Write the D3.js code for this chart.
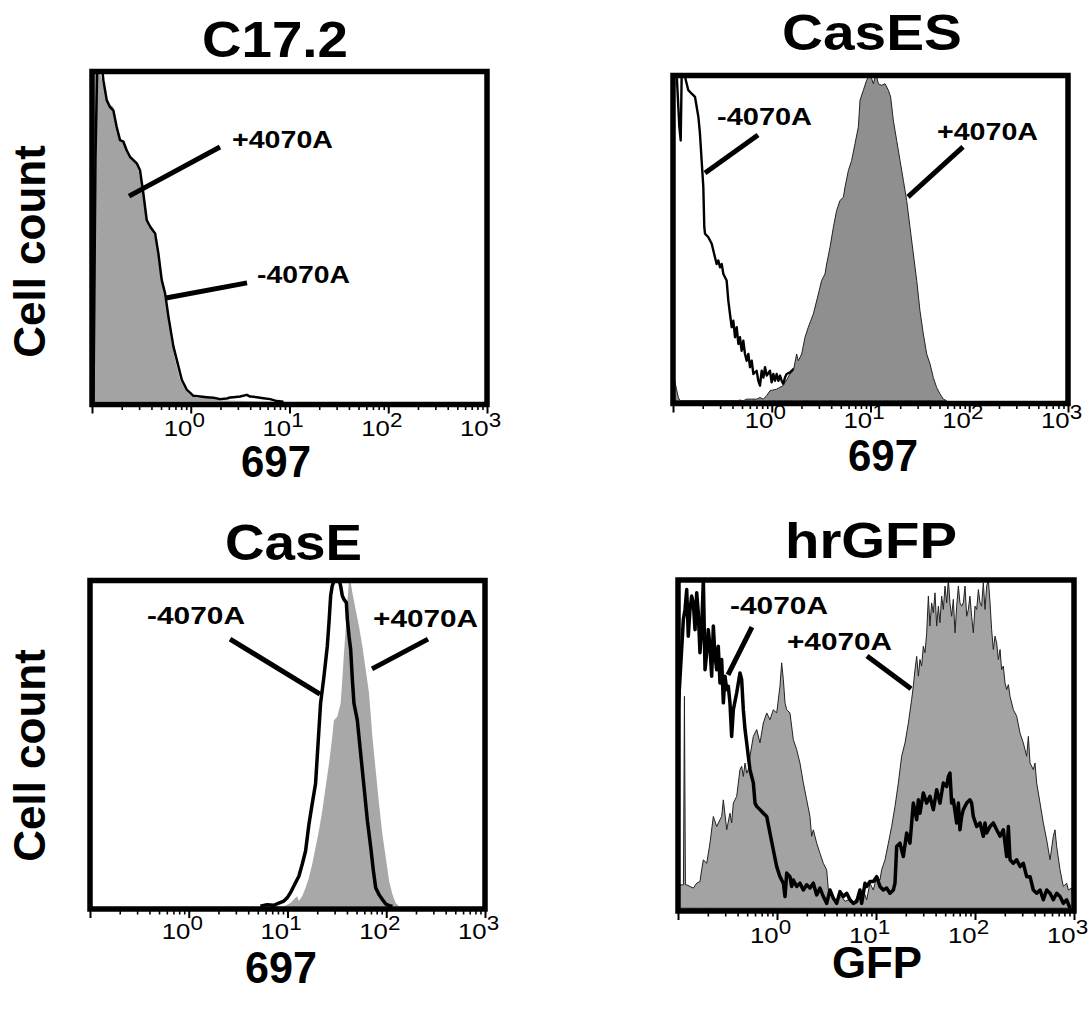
<!DOCTYPE html>
<html>
<head>
<meta charset="utf-8">
<script src="https://cdnjs.cloudflare.com/ajax/libs/d3/7.8.5/d3.min.js"></script>
<style>
    body{margin:0;background:#fff;}
    svg{display:block;font-family:"Liberation Sans",Arial,Helvetica,sans-serif;}
</style>
</head>
<body>
<svg width="1089" height="1011"></svg>
<script>
// Panel / axis text
var panelTitles=["C17.2","CasES","CasE","hrGFP"];
var xTitles=["697","697","697","GFP"];
var yTitle="Cell count";
var decades=[-1,0,1,2,3];          // log10 of fluorescence
var decadeLabels=["","0","1","2","3"];
var seriesNames=["+4070A","-4070A"];

// Histograms: [log10 fluorescence, % of max count]
var c172Plus=[[-1,0],[-0.975,104],[-0.919,100.2],[-0.868,95.1],[-0.834,91.1],[-0.784,90.0],[-0.75,83.9],[-0.716,80.4],[-0.666,78.9],[-0.615,74.8],[-0.564,73.8],[-0.53,70.7],[-0.497,65.7],[-0.463,59.6],[-0.429,53.5],[-0.395,52.4],[-0.361,50.4],[-0.328,43.3],[-0.294,37.2],[-0.26,31.1],[-0.226,25.0],[-0.193,17.9],[-0.159,12.8],[-0.108,6.7],[-0.057,3.7],[-0.007,2.1],[0.061,1.1],[0.162,1.4],[0.23,0.8],[0.331,0.4],[0.568,0.2],[0.905,0]];
var c172Minus=[[-0.985,0],[-0.965,74],[-0.946,104],[-0.902,103],[-0.885,98.2],[-0.851,92.1],[-0.818,90.0],[-0.784,89.0],[-0.75,83.9],[-0.716,79.9],[-0.682,79.4],[-0.649,76.8],[-0.615,74.8],[-0.581,73.8],[-0.547,72.8],[-0.514,70.7],[-0.48,63.6],[-0.446,55.5],[-0.412,53.5],[-0.361,51.4],[-0.328,45.3],[-0.294,37.2],[-0.26,33.1],[-0.226,26.0],[-0.176,16.9],[-0.125,10.8],[-0.091,6.7],[-0.041,3.7],[0.027,1.8],[0.095,1.6],[0.162,1.4],[0.23,1.2],[0.297,0.8],[0.365,1.0],[0.399,1.3],[0.432,1.4],[0.5,1.6],[0.568,2.1],[0.601,1.6],[0.669,1.4],[0.736,1.1],[0.804,0.8],[0.872,0.2],[0.939,0]];

var casesPlus=[[-1,0],[-0.99,7.2],[-0.946,1.0],[-0.929,0],[-0.355,0],[-0.322,0.2],[-0.288,0],[-0.254,0.5],[-0.203,0.5],[-0.153,0.5],[-0.119,1.0],[-0.085,0.5],[-0.051,1.6],[-0.018,3.1],[0.05,3.6],[0.117,4.7],[0.185,8.3],[0.219,9.3],[0.252,14.5],[0.269,12.4],[0.303,14.5],[0.337,19.7],[0.37,22.8],[0.421,26.9],[0.472,33.1],[0.505,37.3],[0.539,39.3],[0.556,42.4],[0.59,47.6],[0.624,53.8],[0.657,59.0],[0.691,62.1],[0.725,63.1],[0.742,66.3],[0.776,71.4],[0.809,74.5],[0.843,79.7],[0.877,84.9],[0.894,93.2],[0.928,96.3],[0.961,99.4],[0.995,101.4],[1.029,98.3],[1.056,101.4],[1.079,98.3],[1.113,97.8],[1.147,98.3],[1.181,96.3],[1.204,94.2],[1.231,87.0],[1.265,80.7],[1.299,74.5],[1.333,68.3],[1.366,62.1],[1.4,53.8],[1.434,45.5],[1.468,37.3],[1.501,27.9],[1.535,20.7],[1.569,14.5],[1.603,11.4],[1.636,7.2],[1.67,4.1],[1.704,2.1],[1.738,0.5],[1.771,0]];
var casesMinus=[[-1,104],[-0.963,101.4],[-0.936,85],[-0.922,80.7],[-0.912,101.4],[-0.878,100.4],[-0.845,96.3],[-0.811,95.2],[-0.777,94.2],[-0.743,88.0],[-0.727,82.8],[-0.71,74.5],[-0.693,66.3],[-0.683,53.8],[-0.676,51.8],[-0.642,50.7],[-0.608,48.7],[-0.575,44.5],[-0.558,42.4],[-0.541,43.5],[-0.524,41.4],[-0.507,42.4],[-0.49,39.3],[-0.457,37.3],[-0.44,31.1],[-0.423,26.9],[-0.406,22.8],[-0.389,24.8],[-0.372,19.7],[-0.355,22.8],[-0.338,17.6],[-0.322,19.7],[-0.305,15.5],[-0.288,18.6],[-0.271,14.5],[-0.254,12.4],[-0.237,14.5],[-0.22,10.4],[-0.203,12.4],[-0.186,8.3],[-0.153,9.3],[-0.136,6.2],[-0.119,4.7],[-0.102,9.3],[-0.085,7.2],[-0.068,10.4],[-0.051,7.8],[-0.018,9.3],[-0.001,5.7],[0.016,8.3],[0.033,6.2],[0.05,8.3],[0.067,6.2],[0.084,7.8],[0.1,6.2],[0.117,5.2],[0.134,7.2],[0.151,8.3],[0.185,8.8],[0.219,9.8],[0.32,6.2],[0.455,2.1],[0.624,0]];

var casePlus=[[0.72,0],[0.75,0.3],[0.963,0],[0.997,0.5],[1.03,1.0],[1.064,2.1],[1.098,3.1],[1.115,1.6],[1.149,3.1],[1.183,5.7],[1.217,8.8],[1.25,13.0],[1.284,18.2],[1.318,23.4],[1.352,29.6],[1.386,36.9],[1.42,44.1],[1.453,52.4],[1.47,57.6],[1.504,58.7],[1.538,62.8],[1.555,70.1],[1.572,78.4],[1.589,85.7],[1.606,94.0],[1.623,101.2],[1.64,100.2],[1.657,97.1],[1.69,91.9],[1.724,86.7],[1.758,80.5],[1.792,73.2],[1.826,65.9],[1.86,52.4],[1.893,42.1],[1.927,31.7],[1.961,22.3],[1.995,15.1],[2.029,7.8],[2.063,3.6],[2.096,1.0],[2.13,0]];
var caseMinus=[[0.726,0],[0.794,0.5],[0.861,0.3],[0.912,1.0],[0.963,1.6],[0.997,2.6],[1.03,4.2],[1.081,7.3],[1.115,9.3],[1.149,13.0],[1.183,17.1],[1.217,25.4],[1.25,31.7],[1.284,37.9],[1.301,46.2],[1.318,54.5],[1.335,62.8],[1.369,71.1],[1.403,80.5],[1.42,87.7],[1.437,96.1],[1.453,99.2],[1.477,101.2],[1.497,101.8],[1.521,101.2],[1.538,99.2],[1.555,96.1],[1.572,95.0],[1.596,94.0],[1.606,88.8],[1.623,83.6],[1.64,79.4],[1.657,70.1],[1.673,62.8],[1.707,57.6],[1.741,47.2],[1.775,36.9],[1.809,26.5],[1.843,18.2],[1.87,10.9],[1.893,5.7],[1.927,3.6],[1.961,2.1],[1.995,0.7],[2.029,0.2],[2.063,0]];

var hrgfpPlus=[[-1,7.2],[-0.945,7.2],[-0.935,65.1],[-0.925,7.2],[-0.912,7.2],[-0.879,6.7],[-0.845,6.2],[-0.811,7.7],[-0.778,8.2],[-0.761,11.8],[-0.744,14.9],[-0.71,13.8],[-0.677,20.0],[-0.643,28.2],[-0.609,25.1],[-0.576,27.2],[-0.559,28.2],[-0.542,33.3],[-0.508,24.1],[-0.475,29.2],[-0.458,26.2],[-0.441,32.3],[-0.407,34.4],[-0.374,42.6],[-0.357,43.6],[-0.34,40.5],[-0.323,44.6],[-0.306,41.5],[-0.29,42.6],[-0.273,46.7],[-0.239,52.8],[-0.205,54.9],[-0.172,50.8],[-0.138,56.9],[-0.104,60.0],[-0.071,57.9],[-0.037,61.0],[-0.003,60.0],[0.03,68.2],[0.047,75.4],[0.064,70.3],[0.081,63.1],[0.098,61.0],[0.131,60.0],[0.165,51.8],[0.199,48.7],[0.232,44.6],[0.266,38.5],[0.3,33.3],[0.333,28.2],[0.35,22.1],[0.367,24.1],[0.401,20.0],[0.434,16.9],[0.468,13.8],[0.502,11.8],[0.519,5.6],[0.552,3.6],[0.586,2.6],[0.62,3.1],[0.653,3.6],[0.687,2.1],[0.721,2.6],[0.771,1.5],[0.805,3.1],[0.838,2.6],[0.872,5.6],[0.906,2.6],[0.939,7.7],[0.973,5.6],[1.007,9.7],[1.04,8.7],[1.057,11.8],[1.091,14.9],[1.125,20.0],[1.158,25.1],[1.192,31.3],[1.226,38.5],[1.259,46.7],[1.293,50.8],[1.327,56.9],[1.36,64.1],[1.377,68.2],[1.394,73.3],[1.411,77.4],[1.428,71.3],[1.444,76.4],[1.461,74.4],[1.478,80.5],[1.495,78.5],[1.512,84.6],[1.529,95.9],[1.545,86.7],[1.562,93.8],[1.579,90.8],[1.596,96.9],[1.613,86.7],[1.63,92.8],[1.646,87.7],[1.663,95.9],[1.68,91.8],[1.697,99.0],[1.714,93.8],[1.731,101.0],[1.747,93.8],[1.764,89.7],[1.781,94.9],[1.798,84.6],[1.815,92.8],[1.832,99.0],[1.848,93.8],[1.865,92.8],[1.882,93.8],[1.899,99.0],[1.916,89.7],[1.933,91.8],[1.949,95.9],[1.966,89.7],[1.983,84.6],[2.0,92.8],[2.017,91.8],[2.034,97.9],[2.051,93.8],[2.067,92.8],[2.084,100.0],[2.101,91.8],[2.118,99.0],[2.135,101.0],[2.152,93.8],[2.168,85.6],[2.185,79.5],[2.202,83.6],[2.219,81.5],[2.236,76.4],[2.253,79.5],[2.269,73.3],[2.286,74.4],[2.303,69.2],[2.32,67.2],[2.337,68.7],[2.354,65.1],[2.387,61.0],[2.421,59.0],[2.455,53.8],[2.488,50.8],[2.522,46.7],[2.539,52.8],[2.556,44.6],[2.589,42.6],[2.606,44.6],[2.623,38.5],[2.657,32.3],[2.69,26.2],[2.724,21.0],[2.758,14.9],[2.791,22.1],[2.808,24.1],[2.825,19.0],[2.859,11.8],[2.892,6.7],[2.926,7.7],[2.943,5.6],[2.976,6.2],[2.993,0],[3.0,0]];
var hrgfpMinus=[[-1,60],[-0.946,88.7],[-0.929,91.8],[-0.912,97.9],[-0.896,83.6],[-0.879,91.8],[-0.862,95.9],[-0.845,93.8],[-0.828,85.6],[-0.811,96.9],[-0.795,90.8],[-0.778,78.5],[-0.761,85.6],[-0.744,101.0],[-0.727,73.3],[-0.71,78.5],[-0.694,85.6],[-0.677,80.5],[-0.66,71.3],[-0.643,86.7],[-0.626,77.4],[-0.609,73.3],[-0.593,80.5],[-0.576,69.2],[-0.559,76.4],[-0.542,63.1],[-0.525,71.3],[-0.508,67.2],[-0.492,68.2],[-0.475,63.1],[-0.458,52.8],[-0.441,61.0],[-0.407,66.2],[-0.374,72.3],[-0.357,70.3],[-0.34,61.0],[-0.323,54.9],[-0.306,50.8],[-0.29,46.7],[-0.273,42.6],[-0.256,40.5],[-0.239,38.5],[-0.222,32.3],[-0.205,31.3],[-0.172,30.3],[-0.138,29.2],[-0.104,28.2],[-0.071,23.1],[-0.037,17.9],[-0.003,12.8],[0.03,9.7],[0.064,7.7],[0.081,3.6],[0.098,10.8],[0.131,9.7],[0.148,6.7],[0.165,8.7],[0.199,6.7],[0.232,7.7],[0.266,5.6],[0.3,7.2],[0.333,6.2],[0.367,7.7],[0.401,4.1],[0.434,6.2],[0.468,3.6],[0.502,1.5],[0.535,5.6],[0.569,3.1],[0.603,1.5],[0.636,5.1],[0.67,3.6],[0.704,4.6],[0.737,2.6],[0.771,1.5],[0.805,2.1],[0.838,5.6],[0.855,1.5],[0.889,7.7],[0.906,6.7],[0.939,8.2],[0.973,8.2],[1.007,9.7],[1.04,6.7],[1.074,5.6],[1.108,6.2],[1.141,4.6],[1.175,5.6],[1.192,7.7],[1.209,19.0],[1.242,20.0],[1.276,15.9],[1.31,23.1],[1.343,20.0],[1.377,32.3],[1.411,27.2],[1.428,33.3],[1.444,29.2],[1.478,35.4],[1.512,32.3],[1.545,34.4],[1.579,30.3],[1.613,36.4],[1.646,32.3],[1.68,38.5],[1.714,37.4],[1.731,40.5],[1.747,41.5],[1.764,32.3],[1.781,33.3],[1.815,26.2],[1.832,32.3],[1.848,24.1],[1.865,28.2],[1.882,30.3],[1.916,32.3],[1.949,33.3],[1.966,32.3],[1.983,28.2],[2.017,25.1],[2.051,26.2],[2.084,22.1],[2.101,26.2],[2.118,23.1],[2.152,25.1],[2.185,26.2],[2.219,24.1],[2.253,22.1],[2.286,24.1],[2.32,15.9],[2.337,25.1],[2.354,14.9],[2.387,13.8],[2.421,14.9],[2.455,12.8],[2.488,13.8],[2.522,9.7],[2.556,9.7],[2.589,5.6],[2.623,4.6],[2.657,5.6],[2.69,2.6],[2.724,5.6],[2.758,4.6],[2.791,2.6],[2.825,4.6],[2.859,3.6],[2.892,1.5],[2.926,2.6],[2.96,0]];

var plusSeries=[c172Plus,casesPlus,casePlus,hrgfpPlus];
var minusSeries=[c172Minus,casesMinus,caseMinus,hrgfpMinus];

// Layout of each panel (frame is stroke-centred), label spots in data units
var frameStroke=5.5;
var layout=[
    {left:92,top:71.5,width:395,height:333,gray:"#a3a3a3",grayStroke:"none",lineWidth:2.5,lineOnTop:true,
        title:[275,57,146],xTitle:[276,477,70],tickDy:31.5,
        plus:{at:[0.418,77.5],w:101,line:[[-0.625,62.8],[0.296,77.8]]},
        minus:{at:[0.671,36.3],w:93,line:[[-0.251,31.7],[0.570,36.3]]}},
    {left:673,top:75.5,width:395,height:328,gray:"#8f8f8f",grayStroke:"#222",lineWidth:2.4,lineOnTop:false,
        title:[872,50,180],xTitle:[883,471,70],tickDy:24.5,
        plus:{at:[1.673,80.9],w:101,line:[[1.380,63.2],[1.937,78.7]]},
        minus:{at:[-0.554,85.5],w:95,line:[[-0.676,70.6],[-0.139,82.4]]}},
    {left:90,top:580.5,width:395,height:328.5,gray:"#a8a8a8",grayStroke:"none",lineWidth:3.5,lineOnTop:true,
        title:[293.5,560,137],xTitle:[281,983,72],tickDy:30,
        plus:{at:[1.866,86.5],w:105,line:[[1.856,73.5],[2.423,82.7]]},
        minus:{at:[-0.423,87.4],w:98,line:[[0.418,82.7],[1.329,65.7]]}},
    {left:678,top:580,width:396,height:331,gray:"#a3a3a3",grayStroke:"#222",lineWidth:3.5,lineOnTop:true,
        title:[871,558,172],xTitle:[877,978,90],tickDy:32,
        plus:{at:[0.101,79.3],w:105,line:[[0.909,77.5],[1.354,67.4]]},
        minus:{at:[-0.475,90.4],w:98,line:[[-0.495,71.7],[-0.253,86.4]]}}
];
var yTitlePos=[[45,251.5],[45,755.5]];

var svg=d3.select("svg");

// minor ticks at 2..9 x 10^n
var minorTicks=[];
for(var n=decades[0];n<decades[decades.length-1];n++){
    for(var k=2;k<10;k++) minorTicks.push(n+Math.log10(k));
}

function drawPanel(p,i)
{
    var inset=frameStroke/2;
    var x=d3.scaleLinear().domain([decades[0],decades[decades.length-1]]).range([p.left,p.left+p.width]);
    var y=d3.scaleLinear().domain([0,100]).range([p.top+p.height-inset,p.top+inset]);
    var g=svg.append("g").attr("id","panel"+i);

    g.append("clipPath").attr("id","clip"+i)
        .append("rect")
        .attr("x",p.left).attr("y",p.top)
        .attr("width",p.width).attr("height",p.height);

    var area=d3.area().x(function(d){return x(d[0]);}).y0(y(0)).y1(function(d){return y(d[1]);});
    var line=d3.line().x(function(d){return x(d[0]);}).y(function(d){return y(d[1]);});

    var plot=g.append("g").attr("clip-path","url(#clip"+i+")");

    function drawFill(){
        plot.append("path").datum(plusSeries[i])
            .attr("d",area)
            .style("fill",p.gray)
            .style("stroke",p.grayStroke)
            .style("stroke-width",1);
    }
    function drawLine(){
        plot.append("path").datum(minusSeries[i])
            .attr("d",line)
            .style("fill","none")
            .style("stroke","#000")
            .style("stroke-width",p.lineWidth)
            .style("stroke-linejoin","round");
    }
    if(p.lineOnTop){drawFill();drawLine();}
    else{drawLine();drawFill();}

    // ticks under the frame
    var base=p.top+p.height;
    var major=d3.axisBottom(x).tickValues(decades).tickSize(9).tickFormat("");
    var minor=d3.axisBottom(x).tickValues(minorTicks).tickSize(5.5).tickFormat("");
    g.append("g").attr("transform","translate(0,"+base+")").call(minor)
        .call(function(a){a.select(".domain").remove();a.selectAll("line").style("stroke-width",1.6);});
    g.append("g").attr("transform","translate(0,"+base+")").call(major)
        .call(function(a){a.select(".domain").remove();a.selectAll("line").style("stroke-width",2);});

    // frame
    g.append("rect")
        .attr("x",p.left).attr("y",p.top)
        .attr("width",p.width).attr("height",p.height)
        .style("fill","none").style("stroke","#000").style("stroke-width",frameStroke);

    // decade labels 10^n
    decades.forEach(function(dv,j){
        if(decadeLabels[j]==="") return;
        var t=g.append("text")
            .attr("transform","translate("+(x(dv)-27)+","+(base+p.tickDy)+") scale(1.12,1)")
            .style("fill","#000");
        t.append("tspan").style("font-size","23px").text("10");
        t.append("tspan").style("font-size","20px").attr("dy",-9).text(decadeLabels[j]);
    });

    // titles
    g.append("text")
        .attr("x",p.title[0]).attr("y",p.title[1])
        .attr("text-anchor","middle")
        .attr("textLength",p.title[2]).attr("lengthAdjust","spacingAndGlyphs")
        .style("font-size","50px").style("font-weight","bold")
        .text(panelTitles[i]);

    g.append("text")
        .attr("x",p.xTitle[0]).attr("y",p.xTitle[1])
        .attr("text-anchor","middle")
        .attr("textLength",p.xTitle[2]).attr("lengthAdjust","spacingAndGlyphs")
        .style("font-size","44px").style("font-weight","bold")
        .text(xTitles[i]);

    // series annotations
    [p.plus,p.minus].forEach(function(a,j){
        g.append("line")
            .attr("x1",x(a.line[0][0])).attr("y1",y(a.line[0][1]))
            .attr("x2",x(a.line[1][0])).attr("y2",y(a.line[1][1]))
            .style("stroke","#000").style("stroke-width",5);
        g.append("text")
            .attr("x",x(a.at[0])).attr("y",y(a.at[1]))
            .attr("textLength",a.w).attr("lengthAdjust","spacingAndGlyphs")
            .style("font-size","23px").style("font-weight","bold")
            .text(seriesNames[j]);
    });
}

layout.forEach(drawPanel);

// Row y titles
yTitlePos.forEach(function(pos){
    svg.append("text")
        .attr("transform","translate("+pos[0]+","+pos[1]+") rotate(-90)")
        .attr("text-anchor","middle")
        .style("font-size","44px").style("font-weight","bold")
        .text(yTitle);
});
</script>
</body>
</html>
